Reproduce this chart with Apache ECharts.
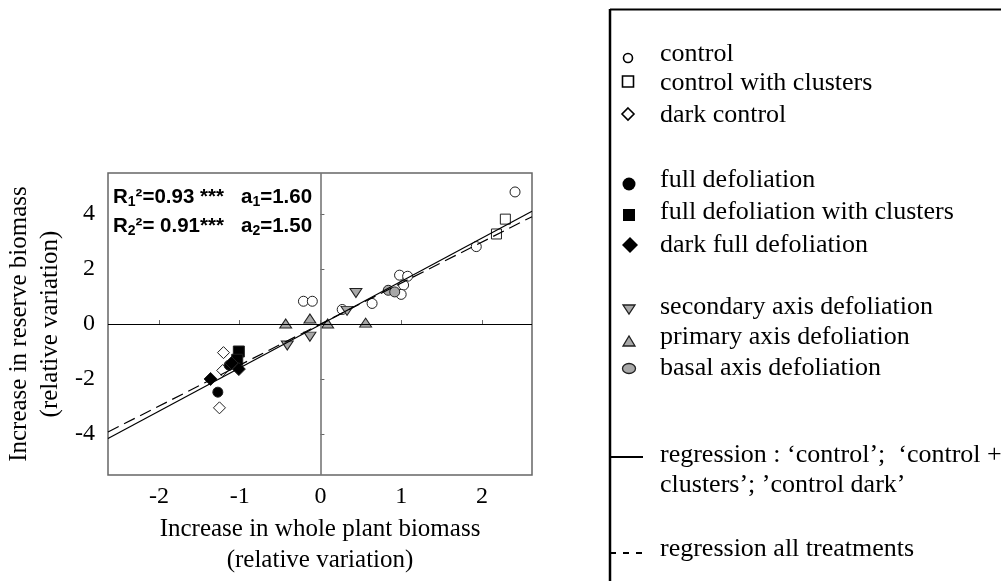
<!DOCTYPE html>
<html><head><meta charset="utf-8">
<script src="https://cdn.jsdelivr.net/npm/echarts@6/dist/echarts.min.js"></script>
<style>html,body{margin:0;padding:0;background:#fff}#c{width:1001px;height:581px}</style>
</head><body><div id="c"></div>
<script>
// ---- data ----
const controlPts = [[2.41,4.81],[1.93,2.82],[0.98,1.78],[1.08,1.74],[1.03,1.42],[1.0,1.08],[0.64,0.75],[0.27,0.53],[-0.21,0.83],[-0.1,0.83]];
const controlClustersPts = [[2.29,3.82],[2.18,3.28]];
const darkControlPts = [[-1.2,-1.04],[-1.21,-1.69],[-1.25,-3.05]];
const fullDefPts = [[-1.27,-2.48],[-1.13,-1.5]];
const fullDefClustersPts = [[-1.01,-1.0],[-1.03,-1.3]];
const darkFullDefPts = [[-1.36,-2.0],[-1.01,-1.64],[-1.1,-1.42]];
const secondaryPts = [[0.44,1.13],[0.33,0.48],[-0.13,-0.46],[-0.41,-0.78]];
const primaryPts = [[-0.43,0.02],[-0.13,0.2],[0.09,0.02],[0.56,0.05]];
const basalPts = [[0.84,1.23],[0.92,1.17]];
const regControlLine = [[-2.63,-4.17],[2.62,4.11]];
const regAllLine = [[-2.63,-3.93],[2.62,3.91]];
const xTicks = [-2,-1,0,1,2];
const yTicks = [-4,-2,0,2,4];
const xRange = [-2.63, 2.62];
const yRange = [-5.5, 5.5];
const legendNames = ['control','control with clusters','dark control','full defoliation','full defoliation with clusters','dark full defoliation','secondary axis defoliation','primary axis defoliation','basal axis defoliation'];
const regLabels = ['regression : \u2018control\u2019;  \u2018control +','clusters\u2019; \u2019control dark\u2019','regression all treatments'];
const statsLine1 = ['R','1','\u00b2=0.93 ***','a','1','=1.60'];
const statsLine2 = ['R','2','\u00b2= 0.91***','a','2','=1.50'];

const SERIF = '"Liberation Serif","Times New Roman",serif';
const SANS = '"Liberation Sans",Arial,sans-serif';
const GRAY = '#a8a8a8', EDGE = '#202020';

function sc(name, data, symbol, size, fill, extra) {
  return Object.assign({
    type: 'scatter', name, data, symbol, symbolSize: size,
    itemStyle: {color: fill, borderColor: EDGE, borderWidth: 1, opacity: 1},
    z: 3, silent: true
  }, extra || {});
}

const chart = echarts.init(document.getElementById('c'));
const tickFont = {fontFamily: SERIF, fontSize: 24, color: '#000'};

const lx = 629, tx = 660;
const legendShapes = [
  {type:'circle', shape:{cx:lx-1, cy:58, r:4.5}, style:{fill:'#fff', stroke:'#000', lineWidth:1.6}},
  {type:'rect', shape:{x:lx-6.5, y:76, width:11, height:11}, style:{fill:'#fff', stroke:'#000', lineWidth:1.6}},
  {type:'polygon', shape:{points:[[lx-1,108],[lx+5,114],[lx-1,120],[lx-7,114]]}, style:{fill:'#fff', stroke:'#000', lineWidth:1.6}},
  {type:'circle', shape:{cx:lx, cy:184, r:6.5}, style:{fill:'#000'}},
  {type:'rect', shape:{x:lx-6, y:209, width:12, height:12}, style:{fill:'#000'}},
  {type:'polygon', shape:{points:[[lx+1,237],[lx+9,245],[lx+1,253],[lx-7,245]]}, style:{fill:'#000'}},
  {type:'polygon', shape:{points:[[lx-6,305],[lx+6,305],[lx,314]]}, style:{fill:GRAY, stroke:EDGE, lineWidth:1.3}},
  {type:'polygon', shape:{points:[[lx-6,346],[lx+6,346],[lx,336]]}, style:{fill:GRAY, stroke:EDGE, lineWidth:1.3}},
  {type:'ellipse', shape:{cx:lx, cy:368.5, rx:6.5, ry:5}, style:{fill:GRAY, stroke:EDGE, lineWidth:1.3}}
];
const LFONT = '26px ' + SERIF;
const legendTextY = [54, 83, 115, 180, 212, 245, 307, 337, 368];
const legendTexts = legendNames.map((n,i) => ({type:'text', x:tx, y:legendTextY[i],
  style:{text:n, font:LFONT, fill:'#000', textVerticalAlign:'middle'}}));
const regTexts = [
  {type:'text', x:tx, y:455, style:{text:regLabels[0], font:LFONT, fill:'#000', textVerticalAlign:'middle'}},
  {type:'text', x:tx, y:485, style:{text:regLabels[1], font:LFONT, fill:'#000', textVerticalAlign:'middle'}},
  {type:'text', x:tx, y:549, style:{text:regLabels[2], font:LFONT, fill:'#000', textVerticalAlign:'middle'}}
];
const richStats = {
  m: {fontFamily: SANS, fontWeight: 'bold', fontSize: 20.5, lineHeight: 25, color: '#000'},
  s: {fontFamily: SANS, fontWeight: 'bold', fontSize: 14, lineHeight: 14, verticalAlign: 'bottom', color: '#000'}
};
function statText(parts, x, y) {
  return [
    {type:'text', x:x, y:y, style:{text:'{m|'+parts[0]+'}{s|'+parts[1]+'}{m|'+parts[2]+'}', rich:richStats, textVerticalAlign:'middle'}, z:10},
    {type:'text', x:241, y:y, style:{text:'{m|'+parts[3]+'}{s|'+parts[4]+'}{m|'+parts[5]+'}', rich:richStats, textVerticalAlign:'middle'}, z:10}
  ];
}

const option = {
  backgroundColor: '#fff',
  animation: false,
  grid: {left: 108, right: 469, top: 173, bottom: 105, show: true, borderColor: '#666', borderWidth: 1.5, backgroundColor: 'transparent'},
  xAxis: {
    type: 'value', min: xRange[0], max: xRange[1],
    name: 'Increase in whole plant biomass\n(relative variation)', nameLocation: 'middle', nameGap: 36,
    nameTextStyle: {fontFamily: SERIF, fontSize: 25, lineHeight: 31, color: '#000'},
    axisLine: {show: false}, splitLine: {show: false},
    axisTick: {show: true, inside: true, length: 4, lineStyle: {color: '#666'}, customValues: xTicks},
    axisLabel: Object.assign({margin: 10, customValues: xTicks}, tickFont)
  },
  yAxis: {
    type: 'value', min: yRange[0], max: yRange[1],
    name: 'Increase in reserve biomass\n(relative variation)', nameLocation: 'middle', nameGap: 42,
    nameTextStyle: {fontFamily: SERIF, fontSize: 25, lineHeight: 31, color: '#000'},
    axisLine: {show: false}, splitLine: {show: false},
    axisTick: {show: true, inside: true, length: 4, lineStyle: {color: '#666'}, customValues: yTicks},
    axisLabel: Object.assign({margin: 13, customValues: yTicks}, tickFont)
  },
  series: [
    {type: 'line', name: 'zero', data: [], silent: true,
      markLine: {silent: true, symbol: 'none', label: {show: false},
        data: [
          {yAxis: 0, lineStyle: {color: '#000', width: 1.2, type: 'solid'}},
          {xAxis: 0, lineStyle: {color: '#777', width: 1.6, type: 'solid'}}
        ]}, z: 1},
    sc('control', controlPts, 'circle', 10, '#fff'),
    sc('control with clusters', controlClustersPts, 'rect', 10, '#fff'),
    sc('dark control', darkControlPts, 'diamond', 12, '#fff'),
    sc('secondary axis defoliation', secondaryPts, 'triangle', [12,9], GRAY, {symbolRotate: 180}),
    sc('primary axis defoliation', primaryPts, 'triangle', [12,9], GRAY),
    sc('basal axis defoliation', basalPts, 'circle', 10, GRAY),
    sc('full defoliation', fullDefPts, 'circle', 10, '#000'),
    sc('full defoliation with clusters', fullDefClustersPts, 'rect', 11, '#000'),
    sc('dark full defoliation', darkFullDefPts, 'diamond', 13, '#000'),
    {type: 'line', name: 'regression control', data: regControlLine, symbol: 'none', silent: true, z: 5,
      lineStyle: {color: '#000', width: 1.2, type: 'solid'}},
    {type: 'line', name: 'regression all treatments', data: regAllLine, symbol: 'none', silent: true, z: 5,
      lineStyle: {color: '#000', width: 1.2, type: [12, 6]}}
  ],
  graphic: [
    {type:'line', shape:{x1:610, y1:9.5, x2:1001, y2:9.5}, style:{stroke:'#000', lineWidth:2}},
    {type:'line', shape:{x1:610, y1:9, x2:610, y2:581}, style:{stroke:'#000', lineWidth:2.5}},
    {type:'line', shape:{x1:610, y1:457, x2:643, y2:457}, style:{stroke:'#000', lineWidth:2}},
    {type:'line', shape:{x1:610, y1:553, x2:643, y2:553}, style:{stroke:'#000', lineWidth:2, lineDash:[6,7]}}
  ].concat(legendShapes, legendTexts, regTexts, statText(statsLine1, 113, 197), statText(statsLine2, 113, 226))
};
chart.setOption(option);
</script></body></html>
